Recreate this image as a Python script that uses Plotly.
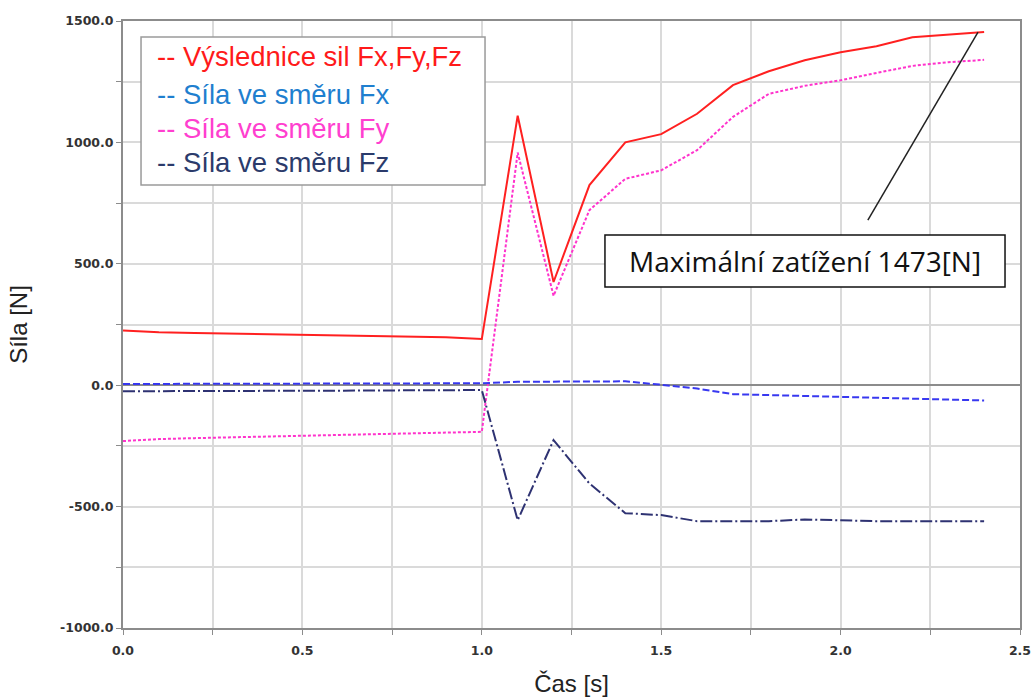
import plotly.graph_objects as go

cas = [0.0, 0.1, 0.2, 0.3, 0.4, 0.5, 0.6, 0.7, 0.8, 0.9, 1.0, 1.1, 1.2, 1.3, 1.4, 1.5,
       1.6, 1.7, 1.8, 1.9, 2.0, 2.1, 2.2, 2.3, 2.4]
vysl = [225, 218, 215, 212, 210, 208, 206, 203, 200, 197, 190, 1110, 425, 824, 1000, 1034,
        1118, 1236, 1293, 1338, 1371, 1396, 1433, 1445, 1455]
fx = [5, 5, 5, 5, 5, 5, 5, 5, 6, 7, 8, 14, 14, 16, 16, 2,
      -14, -37, -41, -45, -50, -54, -58, -61, -63]
fy = [-230, -222, -218, -215, -213, -210, -207, -204, -200, -197, -192, 958, 368, 721, 850, 885,
      968, 1105, 1200, 1233, 1256, 1286, 1315, 1330, 1340]
fz = [-25, -25, -24, -24, -23, -23, -22, -22, -21, -21, -20, -556, -226, -405, -527, -535,
      -560, -560, -560, -553, -558, -560, -560, -560, -560]

x_ticks = [0.0, 0.5, 1.0, 1.5, 2.0, 2.5]
x_ticktext = ["0.0", "0.5", "1.0", "1.5", "2.0", "2.5"]
y_ticks = [-1000, -500, 0, 500, 1000, 1500]
y_ticktext = ["-1000.0", "-500.0", "0.0", "500.0", "1000.0", "1500.0"]

legend_labels = ["-- Výslednice sil Fx,Fy,Fz", "-- Síla ve směru Fx",
                 "-- Síla ve směru Fy", "-- Síla ve směru Fz"]
legend_colors = ["#ff1a1a", "#1f7fcf", "#ff3fcf", "#2b3b6b"]
note_text = "Maximální zatížení 1473[N]"

fig = go.Figure()
fig.add_trace(go.Scatter(x=cas, y=fy, mode="lines", name="Fy",
                         line=dict(color="#ff33cc", width=2, dash="3px,2px")))
fig.add_trace(go.Scatter(x=cas, y=fx, mode="lines", name="Fx",
                         line=dict(color="#3838f0", width=2, dash="7px,3px")))
fig.add_trace(go.Scatter(x=cas, y=fz, mode="lines", name="Fz",
                         line=dict(color="#2e3272", width=2, dash="12px,3px,2px,3px")))
fig.add_trace(go.Scatter(x=cas, y=vysl, mode="lines", name="Výslednice",
                         line=dict(color="#ff2020", width=2)))

axis_common = dict(
    showline=True, linecolor="#8c8c8c", linewidth=2, mirror=True,
    showgrid=True, gridcolor="#dadada", gridwidth=1.5,
    ticks="outside", ticklen=5, tickcolor="#8c8c8c", tickwidth=1,
    tickfont=dict(family="DejaVu Sans", size=12.5, color="#333333", weight="bold"),
    automargin=False,
)

fig.update_xaxes(range=[0, 2.5], tickmode="array", tickvals=x_ticks, ticktext=x_ticktext,
                 zeroline=False, ticklabelstandoff=5,
                 minor=dict(dtick=0.25, tick0=0, ticks="outside", ticklen=5, tickcolor="#8c8c8c",
                            showgrid=True, gridcolor="#dadada", gridwidth=1.5),
                 title=dict(text="Čas [s]", font=dict(family="Liberation Sans Narrow, Arial", size=24,
                                                      color="#222222"), standoff=18),
                 **axis_common)
fig.update_yaxes(range=[-1000, 1500], tickmode="array", tickvals=y_ticks, ticktext=y_ticktext,
                 zeroline=True, zerolinecolor="#8c8c8c", zerolinewidth=2,
                 minor=dict(dtick=250, tick0=0, ticks="outside", ticklen=5, tickcolor="#8c8c8c",
                            showgrid=True, gridcolor="#dadada", gridwidth=1.5),
                 title=dict(text="Síla [N]", font=dict(family="Liberation Sans Narrow, Arial", size=24,
                                                       color="#222222"), standoff=26),
                 **axis_common)

shapes = [
    dict(type="rect", xref="paper", yref="paper", x0=0.0201, x1=0.4036, y0=0.7298, y1=0.9736,
         line=dict(color="#9a9a9a", width=1.5), fillcolor="white", layer="above"),
    dict(type="rect", xref="paper", yref="paper", x0=0.5373, x1=0.9833, y0=0.5618, y1=0.6474,
         line=dict(color="#111111", width=1.5), fillcolor="white", layer="above"),
    dict(type="line", xref="x", yref="y", x0=2.076, y0=680, x1=2.383, y1=1454,
         line=dict(color="#222222", width=1.5), layer="above"),
]

annotations = []
row_y = [0.9407, 0.8797, 0.8237, 0.7677]
for lab, col, yy in zip(legend_labels, legend_colors, row_y):
    annotations.append(dict(xref="paper", yref="paper", x=0.0357, y=yy, xanchor="left",
                            yanchor="middle", text=lab, showarrow=False,
                            font=dict(family="Liberation Sans, Arial", size=27.5, color=col)))
annotations.append(dict(xref="paper", yref="paper", x=0.7603, y=0.6046, xanchor="center",
                        yanchor="middle", text=note_text, showarrow=False,
                        font=dict(family="Open Sans", size=28, color="#111111")))

fig.update_layout(
    width=1035, height=698,
    margin=dict(l=123, r=15, t=21, b=70, autoexpand=False),
    paper_bgcolor="white", plot_bgcolor="white",
    showlegend=False,
    shapes=shapes, annotations=annotations,
)

fig.write_html("out.html")
